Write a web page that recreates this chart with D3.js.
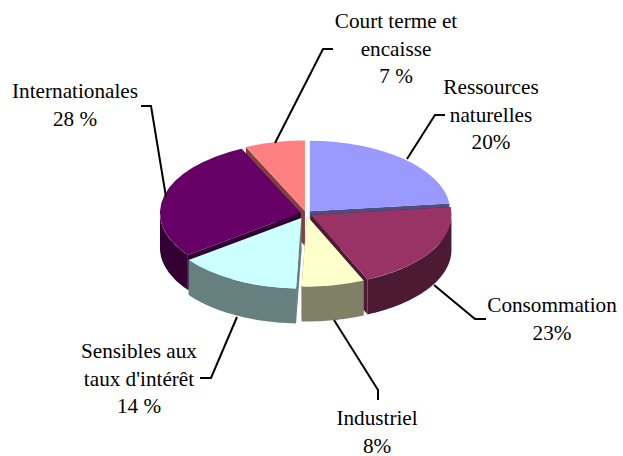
<!DOCTYPE html>
<html>
<head>
<meta charset="utf-8">
<script src="https://cdn.jsdelivr.net/npm/d3@7"></script>
<style>
  html, body { margin: 0; padding: 0; background: #fff; }
  text { font-family: "Liberation Serif", serif; font-size: 21.2px; fill: #000; }
</style>
</head>
<body>
<div id="chart"></div>
<script>
// slices clockwise from 12 o'clock, shares as measured on the picture
const sliceNames = ["Ressources naturelles", "Consommation", "Industriel", "Sensibles aux taux d'intérêt", "Internationales", "Court terme et encaisse"];
const sliceShares = [23.2, 20.2, 7.2, 14.2, 28.3, 6.9];

// label text as printed, each leader points at the slice in the same order
const labelLines = [
  ["Ressources", "naturelles", "20%"],
  ["Consommation", "23%"],
  ["Industriel", "8%"],
  ["Sensibles aux", "taux d'intérêt", "14 %"],
  ["Internationales", "28 %"],
  ["Court terme et", "encaisse", "7 %"]
];

const topColors = ["#9999ff", "#993366", "#ffffcc", "#ccffff", "#660066", "#ff8080"];
const wallColors = ["#4d4d80", "#4d1a33", "#808066", "#668080", "#330033", "#804040"];

const labelPos = [
  { x: 491, y: 94 }, { x: 552, y: 312 }, { x: 377, y: 425 },
  { x: 139, y: 358 }, { x: 75, y: 98 }, { x: 396, y: 28 }
];
const leaders = [
  [[407, 159], [435, 115], [445, 115]],
  [[434, 285], [475, 319], [486, 319]],
  [[334, 320], [378, 390], [378, 400]],
  [[237, 317], [211, 378], [200, 378]],
  [[166, 197], [151, 106], [141, 106]],
  [[275, 143], [323, 49], [333, 49]]
];

const width = 623, height = 456;
const cx = 306, cy = 213.5;
const rx = 140.5, ry = 70.5, depth = 35;
const explode = [5.7, 5.7, 5, 10, 5.7, 5];
const squash = ry / rx;

const svg = d3.select("#chart").append("svg")
  .attr("width", width)
  .attr("height", height)
  .style("display", "block");

const pie = d3.pie().sort(null).value(d => d);
const slices = pie(sliceShares);

const arc = d3.arc().innerRadius(0).outerRadius(rx);

// angle is clockwise from the top, like d3.arc
const project = (a, r = rx) => [Math.sin(a) * r, -Math.cos(a) * r * squash];
const line = d3.line();

// back slices first so the front ones paint over them
const drawOrder = [5, 0, 4, 1, 2, 3];

const pieGroup = svg.append("g");

drawOrder.forEach(i => {
  const s = slices[i];
  const mid = (s.startAngle + s.endAngle) / 2;
  const [ox, oy] = project(mid, explode[i]);
  const g = pieGroup.append("g")
    .attr("class", "slice")
    .attr("transform", `translate(${cx + ox},${cy + oy})`);

  // the two cut faces
  [s.startAngle, s.endAngle].forEach(a => {
    const p = project(a);
    g.append("path")
      .attr("d", line([[0, 0], p, [p[0], p[1] + depth], [0, depth]]) + "Z")
      .attr("fill", wallColors[i]);
  });

  // outer wall, only the part that faces the viewer
  const a0 = Math.max(s.startAngle, Math.PI / 2);
  const a1 = Math.min(s.endAngle, Math.PI * 1.5);
  if (a1 > a0) {
    const rim = d3.range(0, 41).map(k => project(a0 + (a1 - a0) * k / 40));
    const lower = rim.map(p => [p[0], p[1] + depth]).reverse();
    g.append("path")
      .attr("d", line(rim.concat(lower)) + "Z")
      .attr("fill", wallColors[i]);
  }

  g.append("path")
    .attr("d", arc(s))
    .attr("transform", `scale(1,${squash})`)
    .attr("fill", topColors[i]);
});

// leader lines
svg.append("g").selectAll("path")
  .data(leaders)
  .enter()
  .append("path")
  .attr("d", d => line(d))
  .attr("fill", "none")
  .attr("stroke", "#000")
  .attr("stroke-width", 2);

// labels
const labels = svg.append("g").selectAll("text")
  .data(labelLines)
  .enter()
  .append("text")
  .attr("text-anchor", "middle")
  .attr("transform", (d, i) => `translate(${labelPos[i].x},${labelPos[i].y})`);

labels.selectAll("tspan")
  .data(d => d)
  .enter()
  .append("tspan")
  .attr("x", 0)
  .attr("y", (d, i) => i * 27.5)
  .text(d => d);
</script>
</body>
</html>
